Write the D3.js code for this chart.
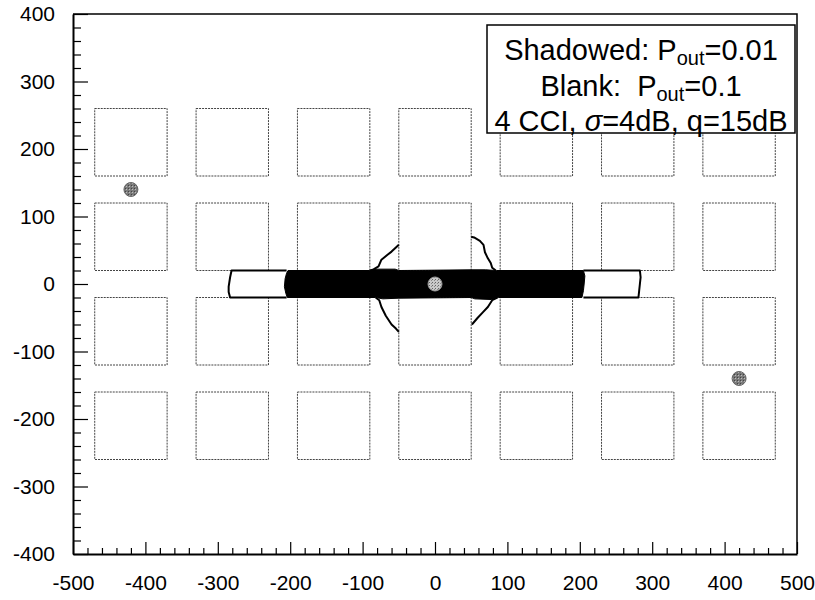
<!DOCTYPE html>
<html>
<head>
<meta charset="utf-8">
<script src="https://cdn.jsdelivr.net/npm/d3@7"></script>
<style>
  html, body { margin: 0; padding: 0; background: #fff; }
  svg { display: block; font-family: "Liberation Sans", Arial, Helvetica, sans-serif; }
</style>
</head>
<body>
<svg id="chart" width="815" height="600"></svg>
<script>
// ---- data ----
const xMajorTicks = [-500, -400, -300, -200, -100, 0, 100, 200, 300, 400, 500];
const yMajorTicks = [-400, -300, -200, -100, 0, 100, 200, 300, 400];
const buildingXCenters = [-420, -280, -140, 0, 140, 280, 420];
const buildingYCenters = [210, 70, -70, -210];
const buildingHalf = 50;
const basePoints = [[0, 0, "center"], [-420, 140, "outer"], [420, -140, "outer"]];
// shadowed region (Pout = 0.01), data units
const shadowedRegion = [[-203,20],[-90,20],[-80,22],[-55,22],[-50,20],[50,21],[70,21],[85,20],[205,20],[207,12],[206,0],[205,-10],[203,-20],[88,-20],[78,-23],[55,-22],[50,-20],[-50,-21],[-72,-22],[-82,-20],[-204,-20],[-206,-14],[-208,-4],[-207,8],[-205,16]];
// blank region outline (Pout = 0.1), data units
const blankLeftEnd = [[-205,20],[-281,20],[-283,10],[-285,-4],[-285,-12],[-283,-20],[-205,-20]];
const blankRightEnd = [[205,20],[283,20],[284,10],[283,0],[282,-10],[281,-20],[205,-20]];
const lobeUpperLeft = [[-90,20],[-86,21],[-78,26],[-74,36],[-66,43],[-60,48],[-54,54],[-50,58]];
const lobeLowerLeft = [[-82,-20],[-77,-24],[-74,-34],[-68,-47],[-60,-60],[-54,-66],[-50,-71]];
const lobeUpperRight = [[50,70],[54,69],[62,64],[67,58],[69,47],[73,38],[77,31],[79,24],[84,20]];
const lobeLowerRight = [[86,-20],[79,-24],[73,-34],[66,-42],[59,-50],[51,-60]];
const legendLines = [
  ["Shadowed: P", "out", "=0.01"],
  ["Blank:\u00A0\u00A0P", "out", "=0.1"]
];
const legendLine3 = ["4 CCI, ", "\u03C3", "=4dB, q=15dB"];

// ---- layout ----
const svg = d3.select("#chart");
const x = d3.scaleLinear().domain([-500, 500]).range([73, 797]);
const y = d3.scaleLinear().domain([-400, 400]).range([554, 14]);

const xMinor = d3.range(-500, 501, 20).filter(v => v % 100 !== 0);
const yMinor = d3.range(-400, 401, 20).filter(v => v % 100 !== 0);
const fmt = d => String(d);

// buildings
const blds = [];
buildingXCenters.forEach(cx => buildingYCenters.forEach(cy => blds.push([cx, cy])));
svg.append("g").selectAll("rect").data(blds).join("rect")
  .attr("x", d => x(d[0] - buildingHalf))
  .attr("y", d => y(d[1] + buildingHalf))
  .attr("width", d => x(d[0] + buildingHalf) - x(d[0] - buildingHalf))
  .attr("height", d => y(d[1] - buildingHalf) - y(d[1] + buildingHalf))
  .attr("fill", "none")
  .attr("stroke", "#444")
  .attr("stroke-width", 1)
  .attr("stroke-dasharray", "2,1");

const line = d3.line().x(d => x(d[0])).y(d => y(d[1]));

// blank outline
const gBlank = svg.append("g").attr("fill", "none").attr("stroke", "#000").attr("stroke-width", 2).attr("stroke-linejoin", "round");
[blankLeftEnd, blankRightEnd, lobeUpperLeft, lobeLowerLeft, lobeUpperRight, lobeLowerRight].forEach(p => {
  gBlank.append("path").attr("d", line(p));
});

// shadowed region
svg.append("path")
  .attr("d", line.curve(d3.curveLinearClosed)(shadowedRegion))
  .attr("fill", "#000").attr("stroke", "#000").attr("stroke-width", 1);

// base stations
const pat = svg.append("defs");
const pc = pat.append("pattern").attr("id", "stipC").attr("width", 3).attr("height", 3).attr("patternUnits", "userSpaceOnUse");
pc.append("rect").attr("width", 3).attr("height", 3).attr("fill", "#c8c8c8");
pc.append("rect").attr("width", 1).attr("height", 1).attr("fill", "#666");
pc.append("rect").attr("x", 2).attr("y", 1).attr("width", 1).attr("height", 1).attr("fill", "#888");
const po = pat.append("pattern").attr("id", "stipO").attr("width", 3).attr("height", 3).attr("patternUnits", "userSpaceOnUse");
po.append("rect").attr("width", 3).attr("height", 3).attr("fill", "#7a7a7a");
po.append("rect").attr("width", 1).attr("height", 1).attr("fill", "#bbb");
po.append("rect").attr("x", 2).attr("y", 2).attr("width", 1).attr("height", 1).attr("fill", "#444");

svg.append("g").selectAll("circle").data(basePoints).join("circle")
  .attr("cx", d => x(d[0])).attr("cy", d => y(d[1])).attr("r", 7)
  .attr("fill", d => d[2] === "center" ? "url(#stipC)" : "url(#stipO)")
  .attr("stroke", d => d[2] === "center" ? "#999" : "#666")
  .attr("stroke-width", 1);

// frame (top & right)
svg.append("path")
  .attr("d", `M${x(-500)},${y(400)}H${x(500)}V${y(-400)}`)
  .attr("fill", "none").attr("stroke", "#000").attr("stroke-width", 1.5);

// axes
const fontSize = 21;
svg.append("g").attr("transform", `translate(0,${y(-400)})`)
  .call(d3.axisBottom(x).tickValues(xMajorTicks).tickSizeInner(-12).tickSizeOuter(0).tickPadding(21).tickFormat(fmt));
svg.append("g").attr("transform", `translate(0,${y(-400)})`)
  .call(d3.axisBottom(x).tickValues(xMinor).tickSizeInner(-6).tickSizeOuter(0).tickFormat(""))
  .call(g => g.select(".domain").remove());
svg.append("g").attr("transform", `translate(${x(-500)},0)`)
  .call(d3.axisLeft(y).tickValues(yMajorTicks).tickSizeInner(-15).tickSizeOuter(0).tickPadding(18).tickFormat(fmt));
svg.append("g").attr("transform", `translate(${x(-500)},0)`)
  .call(d3.axisLeft(y).tickValues(yMinor).tickSizeInner(-8).tickSizeOuter(0).tickFormat(""))
  .call(g => g.select(".domain").remove());

svg.selectAll(".domain").attr("stroke-width", 2);
svg.selectAll(".tick line").attr("stroke-width", 1.2);
svg.selectAll(".tick text").attr("font-size", fontSize).attr("font-family", "Liberation Sans, Arial, sans-serif").attr("fill", "#000");

// legend
const lg = svg.append("g");
lg.append("rect").attr("x", 487).attr("y", 25).attr("width", 308).attr("height", 108)
  .attr("fill", "#fff").attr("stroke", "#000").attr("stroke-width", 1.5);
const lcx = 641, lfs = 29;
const baselines = [60, 96, 131];
legendLines.forEach((parts, i) => {
  const t = lg.append("text").attr("x", lcx).attr("y", baselines[i]).attr("text-anchor", "middle").attr("font-size", lfs);
  t.append("tspan").text(parts[0]);
  t.append("tspan").attr("font-size", 20).attr("dy", 5).text(parts[1]);
  t.append("tspan").attr("dy", -5).text(parts[2]);
});
const t3 = lg.append("text").attr("x", lcx).attr("y", baselines[2]).attr("text-anchor", "middle").attr("font-size", lfs);
t3.append("tspan").text(legendLine3[0]);
t3.append("tspan").attr("font-style", "italic").text(legendLine3[1]);
t3.append("tspan").text(legendLine3[2]);
</script>
</body>
</html>
